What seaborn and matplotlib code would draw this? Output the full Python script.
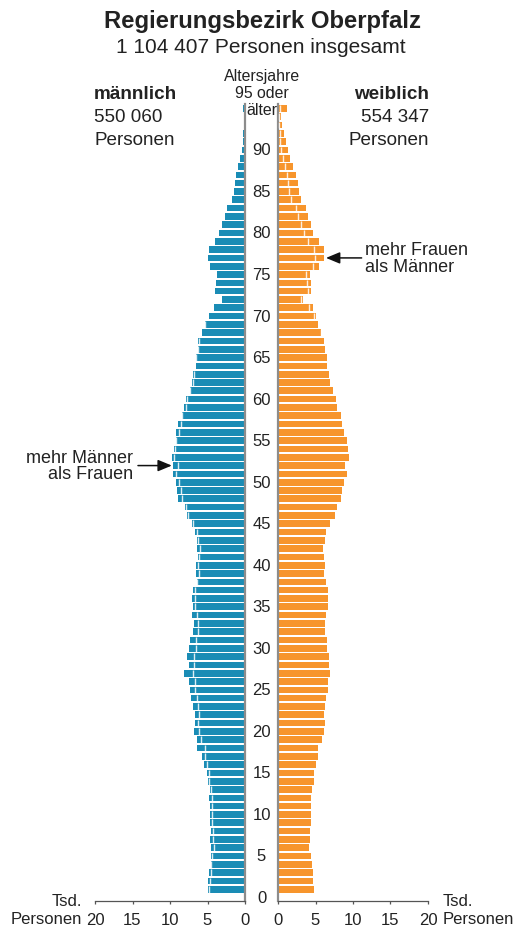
import matplotlib
matplotlib.use("Agg")
import matplotlib.pyplot as plt
import seaborn as sns
import pandas as pd
from matplotlib.transforms import blended_transform_factory

# ---------------- data (ages top-down, 95 = "95 oder älter") ----------------
ages = list(range(95, 0, -1))
male = [0.25, 0.10, 0.13, 0.22, 0.31, 0.45, 0.70, 0.89, 1.16, 1.33,
        1.51, 1.78, 2.40, 2.67, 3.11, 3.51, 4.00, 4.76, 4.89, 4.62,
        3.73, 3.91, 4.00, 3.11, 4.13, 4.84, 5.38, 5.73, 6.27, 6.27,
        6.53, 6.58, 6.93, 7.02, 7.38, 7.82, 8.13, 8.44, 8.98, 9.24,
        9.24, 9.51, 9.78, 9.56, 9.56, 9.24, 9.11, 8.89, 7.96, 7.70,
        7.11, 6.67, 6.44, 6.44, 6.27, 6.53, 6.53, 6.44, 6.89, 7.02,
        6.98, 7.07, 6.84, 6.98, 7.38, 7.42, 7.73, 7.51, 8.18, 7.51,
        7.38, 7.24, 6.93, 6.71, 6.71, 6.76, 6.44, 6.44, 5.73, 5.47,
        5.07, 4.89, 4.67, 4.80, 4.67, 4.67, 4.71, 4.58, 4.71, 4.53,
        4.53, 4.60, 4.80, 5.00, 4.97]
female = [1.15, 0.40, 0.58, 0.80, 1.05, 1.30, 1.55, 1.95, 2.44, 2.62,
          2.84, 3.02, 3.69, 4.04, 4.40, 4.71, 5.47, 6.13, 6.13, 5.47,
          4.22, 4.36, 4.36, 3.38, 4.62, 5.07, 5.33, 5.78, 6.18, 6.22,
          6.49, 6.58, 6.84, 6.93, 7.33, 7.73, 7.87, 8.36, 8.58, 8.84,
          9.16, 9.38, 9.47, 8.93, 9.16, 8.80, 8.58, 8.36, 7.82, 7.60,
          6.98, 6.36, 6.31, 6.00, 6.09, 6.27, 6.18, 6.36, 6.67, 6.62,
          6.62, 6.36, 6.31, 6.27, 6.53, 6.49, 6.84, 6.76, 6.89, 6.71,
          6.62, 6.40, 6.27, 6.13, 6.31, 6.13, 5.87, 5.33, 5.29, 5.11,
          4.76, 4.80, 4.58, 4.40, 4.40, 4.36, 4.36, 4.27, 4.27, 4.18,
          4.45, 4.55, 4.60, 4.65, 4.75]
age_ticks = list(range(0, 95, 5))
x_ticks = [0, 5, 10, 15, 20]

title = "Regierungsbezirk Oberpfalz"
subtitle = "1 104 407 Personen insgesamt"
male_label, male_total = "männlich", "550 060"
female_label, female_total = "weiblich", "554 347"
arrow_f_age, arrow_m_age = 77, 52

BLUE = "#1a8cb5"
ORANGE = "#f7952c"
SPINE_GRAY = "#8c8c8c"
DARK = "#222222"

sns.set_theme(style="white")
plt.rcParams["font.family"] = ["Liberation Sans", "DejaVu Sans"]

W, H = 516, 928
fig = plt.figure(figsize=(W / 100, H / 100), dpi=100)


def fx(px):
    return px / W


def fy(py):
    return 1 - py / H


ax_bot, ax_top = 901.7, 105.0
axL = fig.add_axes([fx(95), fy(ax_bot), (245 - 95) / W, (ax_bot - ax_top) / H])
axR = fig.add_axes([fx(278), fy(ax_bot), (428 - 278) / W, (ax_bot - ax_top) / H])

df = pd.DataFrame({"age": ages, "male": male, "female": female})

sns.barplot(data=df, x="male", y="age", orient="y", native_scale=True,
            color=BLUE, saturation=1, width=0.8, errorbar=None, linewidth=0, ax=axL)
sns.barplot(data=df, x="female", y="age", orient="y", native_scale=True,
            color=ORANGE, saturation=1, width=0.8, errorbar=None, linewidth=0, ax=axR)

# white marks showing the opposite sex's value inside the longer bar
for a, m, f in zip(ages, male, female):
    if f < m:
        axL.vlines(f, a - 0.4, a + 0.4, color="white", lw=1.0, alpha=0.85, zorder=5)
    if m < f:
        axR.vlines(m, a - 0.4, a + 0.4, color="white", lw=1.0, alpha=0.85, zorder=5)

ylo, yhi = -0.385, 95.53
axL.set_xlim(20, 0)
axR.set_xlim(0, 20)
for ax in (axL, axR):
    ax.set_ylim(ylo, yhi)
    ax.set_xlabel("")
    ax.set_ylabel("")
    ax.set_yticks([])
    ax.set_xticks(x_ticks)
    ax.set_xticklabels([str(t) for t in x_ticks])
    ax.tick_params(axis="x", direction="out", length=2.4, width=0.9, color="#555555",
                   pad=5.5, labelsize=12, labelcolor=DARK, bottom=True)
    ax.set_facecolor("none")
    for s in ("top", "left", "right"):
        ax.spines[s].set_visible(False)
    ax.spines["bottom"].set_visible(True)
    ax.spines["bottom"].set_color("#555555")
    ax.spines["bottom"].set_linewidth(0.9)

axL.spines["right"].set_visible(True)
axL.spines["right"].set_color(SPINE_GRAY)
axL.spines["right"].set_linewidth(1.6)
axR.spines["left"].set_visible(True)
axR.spines["left"].set_color(SPINE_GRAY)
axR.spines["left"].set_linewidth(1.6)

# age labels between the two halves
tr = blended_transform_factory(fig.transFigure, axL.transData)
for v in age_ticks:
    fig.text(fx(261.5), v, str(v), transform=tr, ha="center", va="center",
             fontsize=12, color=DARK)
fig.text(fx(262), fy(80.7), "Altersjahre", ha="center", va="baseline", fontsize=11.4, color=DARK)
fig.text(fx(262), fy(98.0), "95 oder", ha="center", va="baseline", fontsize=11.4, color=DARK)
fig.text(fx(262), fy(114.8), "älter", ha="center", va="baseline", fontsize=11.4, color=DARK)

# titles
fig.text(fx(262), fy(28.3), title, ha="center", va="baseline", fontsize=17.2,
         fontweight="bold", color=DARK)
fig.text(fx(261), fy(53.3), subtitle, ha="center", va="baseline", fontsize=15, color=DARK)

# side headers
fig.text(fx(94), fy(99), male_label, ha="left", va="baseline", fontsize=13.6,
         fontweight="bold", color=DARK)
fig.text(fx(94), fy(122), male_total, ha="left", va="baseline", fontsize=13.6, color=DARK)
fig.text(fx(94), fy(145), "Personen", ha="left", va="baseline", fontsize=13.6, color=DARK)
fig.text(fx(429), fy(99), female_label, ha="right", va="baseline", fontsize=13.6,
         fontweight="bold", color=DARK)
fig.text(fx(429), fy(122), female_total, ha="right", va="baseline", fontsize=13.6, color=DARK)
fig.text(fx(429), fy(145), "Personen", ha="right", va="baseline", fontsize=13.6, color=DARK)

# axis unit labels
fig.text(fx(82), fy(906), "Tsd.", ha="right", va="baseline", fontsize=12, color=DARK)
fig.text(fx(82), fy(924), "Personen", ha="right", va="baseline", fontsize=12, color=DARK)
fig.text(fx(443), fy(906), "Tsd.", ha="left", va="baseline", fontsize=12, color=DARK)
fig.text(fx(443), fy(924), "Personen", ha="left", va="baseline", fontsize=12, color=DARK)

# annotations
f_val = df.loc[df.age == arrow_f_age, "female"].iloc[0]
m_val = df.loc[df.age == arrow_m_age, "male"].iloc[0]
aprops = dict(arrowstyle="-|>,head_length=0.6,head_width=0.25", mutation_scale=14,
              color="#111111", lw=1.1, shrinkA=0, shrinkB=0)
axR.annotate("", xy=(f_val + 0.27, arrow_f_age), xytext=(11.15, arrow_f_age),
             arrowprops=aprops, annotation_clip=False)
axR.text(11.6, arrow_f_age, "mehr Frauen\nals Männer", ha="left", va="center",
         fontsize=13, color=DARK, linespacing=0.95, clip_on=False)
axL.annotate("", xy=(m_val + 0.2, arrow_m_age), xytext=(14.27, arrow_m_age),
             arrowprops=aprops, annotation_clip=False)
axL.text(14.93, arrow_m_age, "mehr Männer\nals Frauen", ha="right", va="center",
         fontsize=13, color=DARK, linespacing=0.95, multialignment="right", clip_on=False)

fig.savefig("out.png", dpi=100, facecolor="white")
